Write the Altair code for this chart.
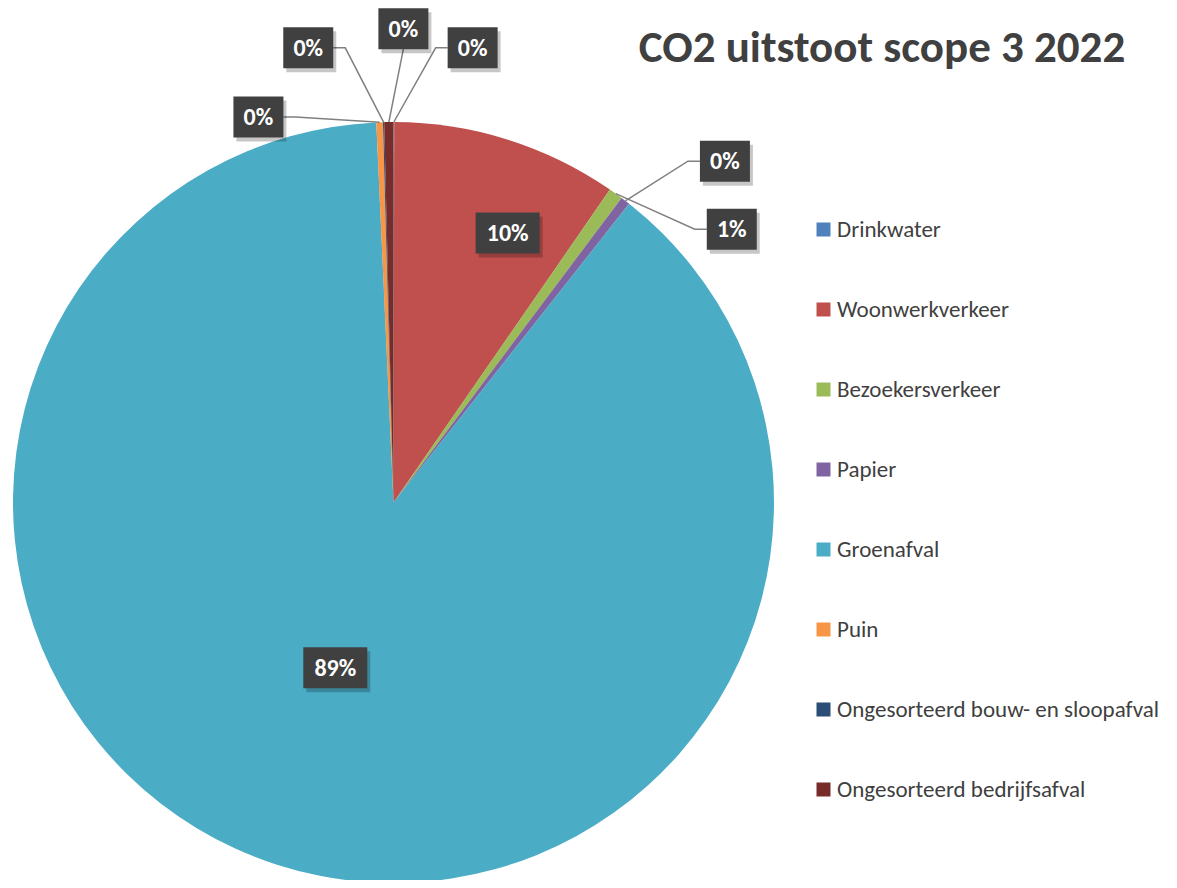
import altair as alt
import pandas as pd
import numpy as np

# ---- data (share of total, %) ----
categories = ["Drinkwater", "Woonwerkverkeer", "Bezoekersverkeer", "Papier",
              "Groenafval", "Puin", "Ongesorteerd bouw- en sloopafval",
              "Ongesorteerd bedrijfsafval"]
values = [0.03, 9.6, 0.6, 0.4, 88.65, 0.28, 0.05, 0.39]
colors = ["#4F81BD", "#C0504D", "#9BBB59", "#8064A2", "#4BACC6", "#F79646",
          "#2C4D75", "#772C2A"]

# label placement (in pie radii, relative to the centre, y up) as in the original
label_x = [0.208, 0.300, 0.889, 0.871, -0.153, -0.355, -0.224, 0.026]
label_y = [1.195, 0.708, 0.718, 0.897, -0.434, 1.013, 1.195, 1.245]
inside = [False, True, False, False, True, False, False, False]

TITLE = "CO2 uitstoot scope 3 2022"
FONT = "Carlito, Calibri, Lato, sans-serif"

# ---- layout ----
W, H = 1161, 872
R = 380.5            # pie radius in px
CX, CY = 385.5, 494.5  # pie centre in px (from top-left of plot)
xs = alt.Scale(domain=[-CX / R, (W - CX) / R], nice=False, zero=False)
ys = alt.Scale(domain=[-(H - CY) / R, CY / R], nice=False, zero=False)

total = sum(values)
pct = [v / total * 100 for v in values]
labels = [f"{int(round(p))}%" for p in pct]

df = pd.DataFrame({
    "cat": categories, "value": values, "idx": list(range(len(values))),
    "cx": 0.0, "cy": 0.0,
})

# label boxes and leader lines
box_rows = []
line_rows = []
cum = 0.0
for i, p in enumerate(pct):
    mid = (cum + p / 2) / 100 * 2 * np.pi
    cum += p
    txt = labels[i]
    hw = (25 if len(txt) <= 2 else 32) / R
    hh = 20 / R
    bx, by = label_x[i], label_y[i]
    box_rows.append({"x": bx, "y": by, "text": txt, "wide": len(txt) > 2})
    if inside[i]:
        continue
    px, py = np.sin(mid), np.cos(mid)
    elbow = 12 / R
    if px > bx + hw:
        pts = [(bx + hw, by), (bx + hw + elbow, by), (px, py)]
    elif px < bx - hw:
        pts = [(bx - hw, by), (bx - hw - elbow, by), (px, py)]
    else:
        pts = [(bx, by - hh), (px, py)]
    for k, (lx, ly) in enumerate(pts):
        line_rows.append({"lid": i, "k": k, "x": lx, "y": ly})

boxes = pd.DataFrame(box_rows)
lines = pd.DataFrame(line_rows)

# soft shadow around the pie
shadow = pd.DataFrame({"cx": [0.0, 0.0, 0.0], "cy": [0.0, 0.0, 0.0],
                       "s": [np.pi * (R + 16) ** 2, np.pi * (R + 8) ** 2, np.pi * (R + 3) ** 2]})

shadow_layer = alt.Chart(shadow).mark_circle(color="#000000", opacity=0.035).encode(
    x=alt.X("cx:Q", scale=xs, axis=None),
    y=alt.Y("cy:Q", scale=ys, axis=None),
    size=alt.Size("s:Q", scale=None, legend=None),
)

pie = alt.Chart(df).mark_arc(radius=R).encode(
    x=alt.X("cx:Q", scale=xs, axis=None),
    y=alt.Y("cy:Q", scale=ys, axis=None),
    theta=alt.Theta("value:Q", stack=True),
    order=alt.Order("idx:Q"),
    color=alt.Color("cat:N", scale=alt.Scale(domain=categories, range=colors),
                    legend=alt.Legend(orient="none", legendX=804, legendY=210, title=None,
                                      symbolType="square", symbolSize=196, symbolStrokeWidth=0,
                                      labelFontSize=23, labelFont=FONT, labelColor="#404040",
                                      rowPadding=56, labelOffset=2, padding=0,
                                      labelLimit=500)),
)

leader = alt.Chart(lines).mark_line(color="#808080", strokeWidth=1.5).encode(
    x=alt.X("x:Q", scale=xs, axis=None),
    y=alt.Y("y:Q", scale=ys, axis=None),
    detail="lid:N",
    order="k:Q",
)

def box_layer(wide, w, color, opacity, dx, dy):
    return alt.Chart(boxes).transform_filter(
        alt.datum.wide == wide
    ).mark_rect(width=w, height=41, color=color, opacity=opacity, xOffset=dx, yOffset=dy).encode(
        x=alt.X("x:Q", scale=xs, axis=None),
        y=alt.Y("y:Q", scale=ys, axis=None),
    )

shadows = [box_layer(w, s, "#000000", 0.22, 3, 4) for w, s in [(False, 50), (True, 64)]]
rects = [box_layer(w, s, "#404040", 1, 0, 0) for w, s in [(False, 50), (True, 64)]]

texts = alt.Chart(boxes).mark_text(font=FONT, fontSize=24, fontWeight="bold", color="#FFFFFF",
                                   align="center", baseline="middle", dy=1).encode(
    x=alt.X("x:Q", scale=xs, axis=None),
    y=alt.Y("y:Q", scale=ys, axis=None),
    text="text:N",
)

title_layer = alt.Chart(pd.DataFrame({"t": [TITLE]})).mark_text(
    font=FONT, fontSize=45, fontWeight="bold", color="#404040",
    align="center", baseline="alphabetic",
).encode(
    x=alt.value(874), y=alt.value(54), text="t:N",
)

chart = alt.layer(shadow_layer, pie, leader, *shadows, *rects, texts, title_layer).properties(
    width=W, height=H,
    autosize=alt.AutoSizeParams(type="none"),
    padding=0,
    background="#FFFFFF",
).configure_view(stroke=None)

chart.save("out.html", embed_options={"renderer": "svg", "actions": False})
